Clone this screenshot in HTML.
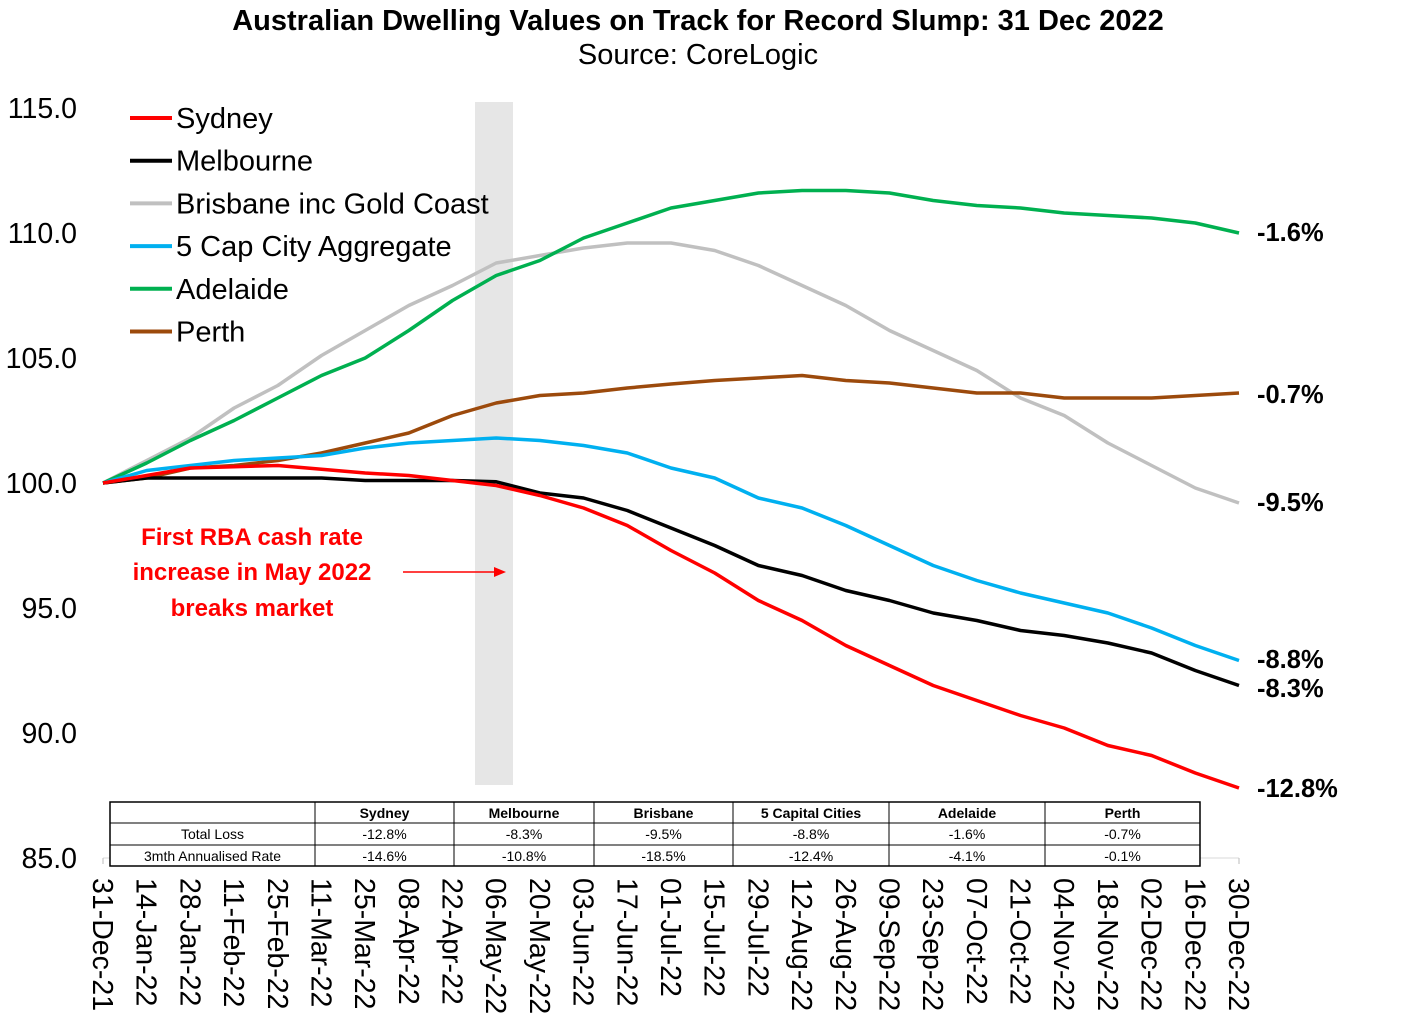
<!DOCTYPE html>
<html><head><meta charset="utf-8"><style>
body{margin:0;background:#fff;}
svg{display:block;font-family:"Liberation Sans",sans-serif;}
</style></head><body>
<svg id="chart" width="1417" height="1027" viewBox="0 0 1417 1027">
<text x="698" y="30" text-anchor="middle" font-size="29" font-weight="bold">Australian Dwelling Values on Track for Record Slump: 31 Dec 2022</text>
<text x="698" y="64" text-anchor="middle" font-size="29">Source: CoreLogic</text>
<rect x="475" y="102" width="38" height="683" fill="#e6e6e6"/>
<g id="yaxis"></g>
<g id="xaxis"></g>
<g id="series"></g>
<g id="legend"></g>
<g id="endlabels"></g>
<g fill="#ff0000" font-weight="bold" font-size="24" text-anchor="middle" font-family="'Liberation Sans',sans-serif">
<text x="252" y="545">First RBA cash rate</text>
<text x="252" y="580">increase in May 2022</text>
<text x="252" y="616">breaks market</text>
</g>
<line x1="403" y1="572" x2="497" y2="572" stroke="#ff0000" stroke-width="1.5"/>
<polygon points="506,572 494,567 494,577" fill="#ff0000"/>
<g id="table"></g>
</svg>
<script>
const NS="http://www.w3.org/2000/svg";
const tickLabels=["31-Dec-21","14-Jan-22","28-Jan-22","11-Feb-22","25-Feb-22","11-Mar-22","25-Mar-22","08-Apr-22","22-Apr-22","06-May-22","20-May-22","03-Jun-22","17-Jun-22","01-Jul-22","15-Jul-22","29-Jul-22","12-Aug-22","26-Aug-22","09-Sep-22","23-Sep-22","07-Oct-22","21-Oct-22","04-Nov-22","18-Nov-22","02-Dec-22","16-Dec-22","30-Dec-22"];
const yTicks=[85,90,95,100,105,110,115];
const sydney=[100,100.3,100.6,100.65,100.7,100.55,100.4,100.3,100.1,99.9,99.5,99.0,98.3,97.3,96.4,95.3,94.5,93.5,92.7,91.9,91.3,90.7,90.2,89.5,89.1,88.4,87.8];
const melbourne=[100,100.2,100.2,100.2,100.2,100.2,100.1,100.1,100.1,100.05,99.6,99.4,98.9,98.2,97.5,96.7,96.3,95.7,95.3,94.8,94.5,94.1,93.9,93.6,93.2,92.5,91.9];
const brisbane=[100,100.9,101.8,103.0,103.9,105.1,106.1,107.1,107.9,108.8,109.1,109.4,109.6,109.6,109.3,108.7,107.9,107.1,106.1,105.3,104.5,103.4,102.7,101.6,100.7,99.8,99.2];
const capCities=[100,100.5,100.7,100.9,101.0,101.1,101.4,101.6,101.7,101.8,101.7,101.5,101.2,100.6,100.2,99.4,99.0,98.3,97.5,96.7,96.1,95.6,95.2,94.8,94.2,93.5,92.9];
const adelaide=[100,100.8,101.7,102.5,103.4,104.3,105.0,106.1,107.3,108.3,108.9,109.8,110.4,111.0,111.3,111.6,111.7,111.7,111.6,111.3,111.1,111.0,110.8,110.7,110.6,110.4,110.0];
const perth=[100,100.2,100.6,100.7,100.9,101.2,101.6,102.0,102.7,103.2,103.5,103.6,103.8,103.96,104.1,104.2,104.3,104.1,104.0,103.8,103.6,103.6,103.4,103.4,103.4,103.5,103.6];
const seriesNames=["Sydney","Melbourne","Brisbane inc Gold Coast","5 Cap City Aggregate","Adelaide","Perth"];
const endLabels=["-12.8%","-8.3%","-9.5%","-8.8%","-1.6%","-0.7%"];
const tableCols=["","Sydney","Melbourne","Brisbane","5 Capital Cities","Adelaide","Perth"];
const totalLoss=["Total Loss","-12.8%","-8.3%","-9.5%","-8.8%","-1.6%","-0.7%"];
const annualised=["3mth Annualised Rate","-14.6%","-10.8%","-18.5%","-12.4%","-4.1%","-0.1%"];

const x0=103,x1=1239,yv0=85,yp0=858,yv1=115,yp1=108;
const xs=i=>x0+(x1-x0)*i/(tickLabels.length-1);
const ys=v=>yp0+(v-yv0)*(yp1-yp0)/(yv1-yv0);
function mk(tag,attrs,parent,text){const e=document.createElementNS(NS,tag);for(const k in attrs)e.setAttribute(k,attrs[k]);if(text!==undefined)e.textContent=text;parent.appendChild(e);return e;}

const ya=document.getElementById('yaxis');
yTicks.forEach(v=>{const t=mk('text',{x:77,y:ys(v)+10,'text-anchor':'end','font-size':28.5},ya,v.toFixed(1));

});
const xa=document.getElementById('xaxis');
mk('line',{x1:x0,y1:yp0,x2:x1,y2:yp0,stroke:'#d9d9d9','stroke-width':1},xa);
tickLabels.forEach((l,i)=>{const x=xs(i);
mk('line',{x1:x,y1:yp0,x2:x,y2:yp0+6,stroke:'#bbb'},xa);
const t=mk('text',{x:0,y:0,'font-size':28.5,transform:`translate(${x-10},878) rotate(90)`},xa,l);

});

const colors=["#ff0000","#000000","#c0c0c0","#00b0f0","#00b050","#9c4a0c"];
const data=[sydney,melbourne,brisbane,capCities,adelaide,perth];
const sg=document.getElementById('series');
[2,5,4,3,1,0].forEach(k=>{const d=data[k].map((v,i)=>(i?'L':'M')+xs(i).toFixed(1)+','+ys(v).toFixed(1)).join(' ');
const p=mk('path',{d:d,fill:'none',stroke:colors[k],'stroke-width':3.5,'stroke-linejoin':'round'},sg);

});

const lg=document.getElementById('legend');
seriesNames.forEach((n,k)=>{const y=118+k*42.7;
const g=mk('g',{},lg);


mk('line',{x1:130,y1:y,x2:172,y2:y,stroke:colors[k],'stroke-width':4},g);
mk('text',{x:176,y:y+10,'font-size':29},g,n);});

const el=document.getElementById('endlabels');
const endY=[788,688,502,659,232,394];
data.forEach((d,k)=>{const t=mk('text',{x:1257,y:endY[k]+9,'font-size':25.5,'font-weight':'bold'},el,endLabels[k]);

});

const tb=document.getElementById('table');
const cx=[110,315,454,594,733,889,1045,1200], ry=[802,823,845,866];
mk('rect',{x:110,y:802,width:1090,height:64,fill:'#fff',stroke:'#000','stroke-width':1.5},tb);
ry.slice(1,3).forEach(y=>mk('line',{x1:110,y1:y,x2:1200,y2:y,stroke:'#000','stroke-width':1},tb));
cx.slice(1,7).forEach(x=>mk('line',{x1:x,y1:802,x2:x,y2:866,stroke:'#000','stroke-width':1},tb));
[tableCols,totalLoss,annualised].forEach((row,r)=>row.forEach((c,j)=>{
mk('text',{x:(cx[j]+cx[j+1])/2,y:ry[r]+16,'text-anchor':'middle','font-size':14,'font-weight':r===0?'bold':'normal'},tb,c);}));
</script>
</body></html>
